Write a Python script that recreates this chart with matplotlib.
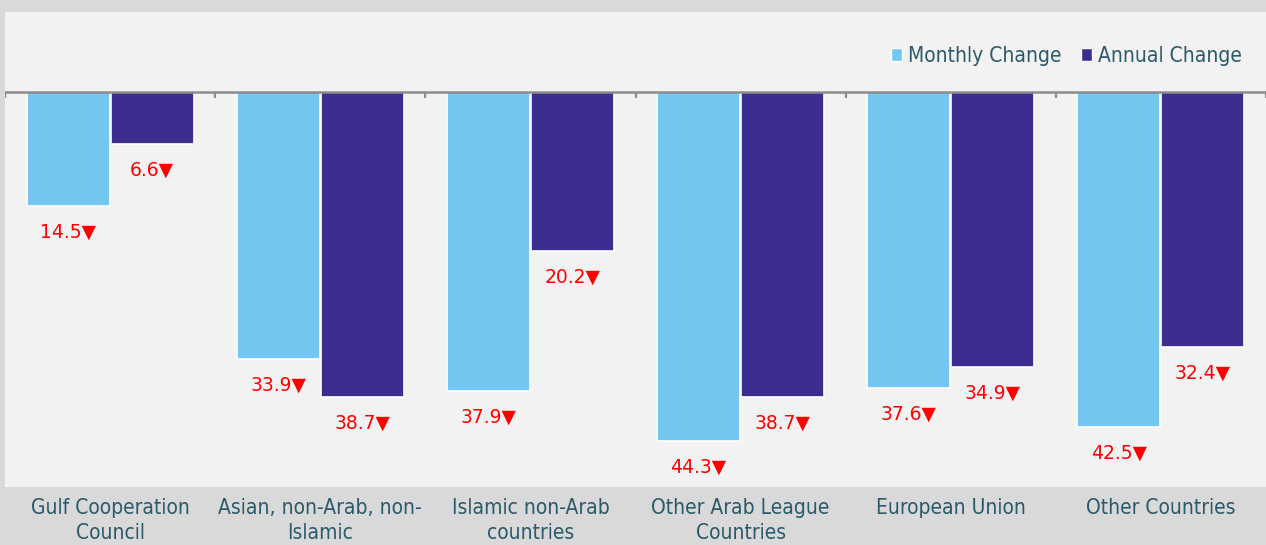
import numpy as np
import matplotlib
matplotlib.use("Agg")
import matplotlib.pyplot as plt
from matplotlib.patches import Patch

# ======================
# data
# ======================
categories = ["Gulf Cooperation\nCouncil", "Asian, non-Arab, non-\nIslamic",
              "Islamic non-Arab\ncountries", "Other Arab League\nCountries",
              "European Union", "Other Countries"]
monthly = [14.5, 33.9, 37.9, 44.3, 37.6, 42.5]
annual = [6.6, 38.7, 20.2, 38.7, 34.9, 32.4]
series_names = ["Monthly Change", "Annual Change"]

# ======================
# style
# ======================
C_MONTHLY = "#73c6f0"
C_ANNUAL = "#3b2e8f"
C_TEXT = "#2b5a6a"
C_BG_OUT = "#d9d9d9"
C_BG_IN = "#f2f2f2"
NARROW = ["DejaVu Sans"]

fig = plt.figure(figsize=(12.66, 5.45), dpi=100, facecolor=C_BG_OUT)
ax = fig.add_axes([5 / 1266, 58 / 545, 1261 / 1266, 475 / 545])
ax.set_facecolor(C_BG_IN)

x = np.arange(len(categories))
w = 0.395
off = 0.2
b1 = ax.bar(x - off, [-v for v in monthly], w, color=C_MONTHLY, edgecolor="white", linewidth=1.2)
b2 = ax.bar(x + off, [-v for v in annual], w, color=C_ANNUAL, edgecolor="white", linewidth=1.2)

# labels under each bar
for bars, vals in ((b1, monthly), (b2, annual)):
    for r, v in zip(bars, vals):
        ax.text(r.get_x() + r.get_width() / 2, -v - 3.3, f"{v:.1f}\u25bc",
                ha="center", va="center", color="red", fontsize=13.5,
                family="DejaVu Sans")

ax.set_xlim(-0.5, len(categories) - 0.5)
ax.set_ylim(-50.1, 10.15)

# zero line and boundary ticks
ax.axhline(0, color="#8c8c8c", lw=1.8, zorder=3)
ax.vlines(np.arange(-0.5, len(categories)), -0.8, 0, color="#8c8c8c", lw=1.6, zorder=3)

for s in ax.spines.values():
    s.set_visible(False)
ax.set_yticks([])
ax.set_xticks(x)
ax.set_xticklabels(categories, fontsize=15, color=C_TEXT, family=NARROW,
                   stretch="condensed", linespacing=1.3)
ax.tick_params(axis="x", length=0, pad=8)

handles = [Patch(facecolor=C_MONTHLY, edgecolor="white"), Patch(facecolor=C_ANNUAL, edgecolor="white")]
leg = ax.legend(handles, series_names, loc="center right", bbox_to_anchor=(1261 / 1266, 1 - 56 / 545),
                bbox_transform=fig.transFigure, ncol=2, frameon=False, handlelength=0.55,
                handleheight=0.55, handletextpad=0.3, columnspacing=0.9,
                prop={"family": NARROW, "size": 15, "stretch": "condensed"})
for t in leg.get_texts():
    t.set_color(C_TEXT)

fig.savefig("out.png", dpi=100, facecolor=C_BG_OUT)
